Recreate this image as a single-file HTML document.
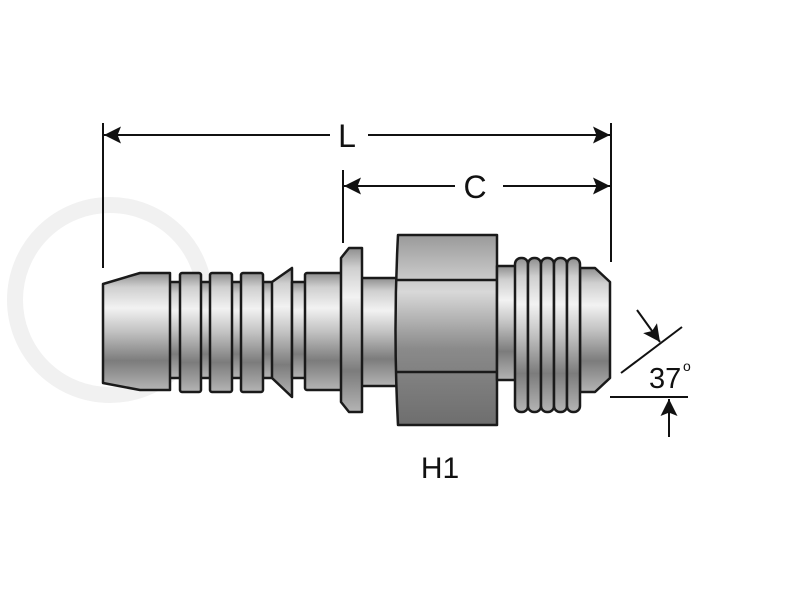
<!DOCTYPE html>
<html><head><meta charset="utf-8"><style>
html,body{margin:0;padding:0;background:#fff;}
svg{display:block;}
text{font-family:"Liberation Sans",sans-serif;fill:#111;}
</style></head><body>
<svg width="800" height="600" viewBox="0 0 800 600" xmlns="http://www.w3.org/2000/svg">
<defs>
<linearGradient id="m" x1="0" y1="0" x2="0" y2="1">
<stop offset="0" stop-color="#8e8e8e"/>
<stop offset="0.12" stop-color="#cfcfcf"/>
<stop offset="0.3" stop-color="#f2f2f2"/>
<stop offset="0.5" stop-color="#c2c2c2"/>
<stop offset="0.75" stop-color="#7c7c7c"/>
<stop offset="1" stop-color="#b4b4b4"/>
</linearGradient>
<linearGradient id="h" x1="0" y1="0" x2="0" y2="1">
<stop offset="0" stop-color="#9a9a9a"/>
<stop offset="0.3" stop-color="#d8d8d8"/>
<stop offset="0.6" stop-color="#8a8a8a"/>
<stop offset="1" stop-color="#6e6e6e"/>
</linearGradient>
<marker id="a" viewBox="0 0 10 10" refX="10" refY="5" markerWidth="28" markerHeight="17" markerUnits="userSpaceOnUse" orient="auto"><path d="M0,0 L10,5 L0,10 L2,5 Z" fill="#111"/></marker>
</defs>
<circle cx="110" cy="300" r="95" fill="none" stroke="#f1f1f1" stroke-width="16"/>
<g stroke="#1a1a1a" stroke-width="2.5" stroke-linejoin="round" fill="url(#m)">
<rect x="165" y="282" width="110" height="96"/>
<path d="M103,284 L140,273 L170,273 L170,390 L140,390 L103,383 Z"/>
<rect x="180" y="273" width="21" height="119" rx="2"/>
<rect x="210" y="273" width="22" height="119" rx="2"/>
<rect x="241" y="273" width="22" height="119" rx="2"/>
<path d="M272,282 L292,268 L292,397 L272,378 Z"/>
<rect x="292" y="282" width="15" height="96"/>
<rect x="305" y="273" width="37" height="117" rx="2"/>
<rect x="360" y="278" width="38" height="108"/>
<path d="M341,258 L349,248 L362,248 L362,412 L349,412 L341,402 Z"/>
<path d="M398,235 L497,235 L497,425 L398,425 Q393,330 398,235 Z" fill="url(#h)"/>
<path d="M395,280 L497,280 M395,372 L497,372" fill="none"/>
<rect x="497" y="266" width="20" height="114"/>
<path d="M580,268 L595,268 L610,282 L610,378 L595,392 L580,392 Z"/>
<g fill="url(#m)">
<rect x="515" y="258" width="13" height="154" rx="6"/>
<rect x="528" y="258" width="13" height="154" rx="6"/>
<rect x="541" y="258" width="13" height="154" rx="6"/>
<rect x="554" y="258" width="13" height="154" rx="6"/>
<rect x="567" y="258" width="13" height="154" rx="6"/>
</g>
</g>
<g stroke="#111" stroke-width="2" fill="none">
<line x1="103" y1="123" x2="103" y2="268"/>
<line x1="611" y1="123" x2="611" y2="262"/>
<line x1="343" y1="170" x2="343" y2="243"/>
<line x1="330" y1="135" x2="104" y2="135" marker-end="url(#a)"/>
<line x1="368" y1="135" x2="610" y2="135" marker-end="url(#a)"/>
<line x1="455" y1="186" x2="344" y2="186" marker-end="url(#a)"/>
<line x1="503" y1="186" x2="610" y2="186" marker-end="url(#a)"/>
<line x1="621" y1="373" x2="682" y2="327"/>
<line x1="637" y1="310" x2="660" y2="342" marker-end="url(#a)"/>
<line x1="610" y1="397" x2="688" y2="397"/>
<line x1="669" y1="437" x2="669" y2="399" marker-end="url(#a)"/>
</g>
<text x="347" y="147" font-size="32" text-anchor="middle">L</text>
<text x="475" y="198" font-size="32" text-anchor="middle">C</text>
<text x="649" y="388" font-size="29">37</text>
<text x="683" y="371" font-size="14">o</text>
<text x="440" y="478" font-size="30" text-anchor="middle">H1</text>
</svg>
</body></html>
